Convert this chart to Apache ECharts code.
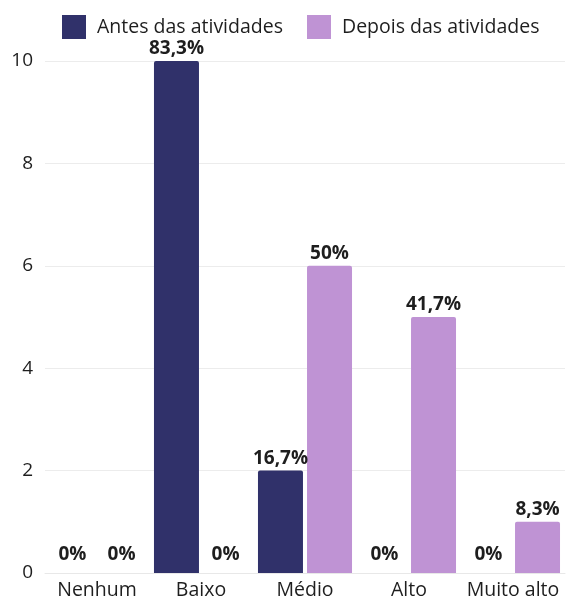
<!DOCTYPE html>
<html>
<head>
<meta charset="utf-8">
<script src="https://cdn.jsdelivr.net/npm/echarts@6/dist/echarts.min.js"></script>
<style>
  html, body { margin: 0; padding: 0; background: #fff; }
  #chart { width: 567px; height: 601px; }
</style>
</head>
<body>
<div id="chart"></div>
<script>
const categories = ['Nenhum', 'Baixo', 'Médio', 'Alto', 'Muito alto'];
const antesValues = [0, 10, 2, 0, 0];
const depoisValues = [0, 0, 6, 5, 1];
const antesLabels = ['0%', '83,3%', '16,7%', '0%', '0%'];
const depoisLabels = ['0%', '0%', '50%', '41,7%', '8,3%'];

const chart = echarts.init(document.getElementById('chart'));

// zero bars get their label a bit higher, like in the original
const toItems = (values) => values.map(v => ({
    value: v,
    label: { distance: v === 0 ? 9 : 3 }
}));

const labelStyle = (texts) => ({
    show: true,
    position: 'top',
    fontFamily: 'Open Sans',
    fontWeight: 'bold',
    fontSize: 19,
    color: '#1e1e1e',
    formatter: (p) => texts[p.dataIndex]
});

const option = {
    textStyle: { fontFamily: 'Open Sans' },
    legend: {
        top: 10,
        left: 57,
        icon: 'rect',
        itemWidth: 24,
        itemHeight: 24,
        itemGap: 24,
        textStyle: { fontSize: 19.5, color: '#1e1e1e', fontFamily: 'Open Sans', padding: [0, 0, 0, 6] },
        data: ['Antes das atividades', 'Depois das atividades']
    },
    grid: { left: 45, right: 2, top: 61, bottom: 28 },
    xAxis: {
        type: 'category',
        data: categories,
        axisLine: { show: true, lineStyle: { color: '#e8e8e8' } },
        axisTick: { show: false },
        axisLabel: { fontSize: 19.5, color: '#1e1e1e', margin: 7, interval: 0 }
    },
    yAxis: {
        type: 'value',
        min: 0,
        max: 10,
        interval: 2,
        axisLabel: { fontSize: 19, color: '#1e1e1e', margin: 12 },
        splitLine: { lineStyle: { color: '#ececec' } }
    },
    series: [
        {
            name: 'Antes das atividades',
            type: 'bar',
            data: toItems(antesValues),
            barWidth: 45,
            barGap: '9%',
            itemStyle: { color: '#30316a', borderRadius: [2, 2, 0, 0] },
            label: labelStyle(antesLabels)
        },
        {
            name: 'Depois das atividades',
            type: 'bar',
            data: toItems(depoisValues),
            barWidth: 45,
            itemStyle: { color: '#bf93d4', borderRadius: [2, 2, 0, 0] },
            label: labelStyle(depoisLabels)
        }
    ]
};

chart.setOption(option);
</script>
</body>
</html>
